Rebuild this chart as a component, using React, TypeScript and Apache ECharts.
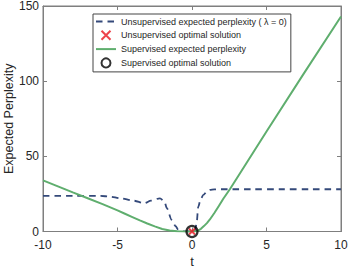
import React, { useEffect, useRef } from "react";
import * as echarts from "echarts";

const tUnsup = [-10, -8, -6.15, -5.5, -4.82, -3.93, -3.2, -2.75, -2.15, -1.85, -1.69, -1.36, -1.1, -0.92, -0.6, -0.25, 0, 0.2, 0.31, 0.42, 0.58, 0.76, 1.0, 1.2, 1.5, 1.87, 4, 6, 8, 10];
const vUnsup = [23.7, 23.7, 23.7, 23.2, 22.1, 20.5, 18.8, 20.5, 22.1, 20, 15.5, 7.7, 3.5, 1.2, 0.2, 0, 0, 0.5, 5.5, 16.5, 21.5, 24.3, 26.5, 27.7, 28, 28.1, 28.1, 28.1, 28.1, 28.1];

const tSup = [-10, -9, -8, -7, -6, -5, -4.5, -4, -3.5, -3, -2.5, -2, -1.5, -1, -0.5, 0, 0.2, 0.4, 0.6, 0.8, 1, 1.2, 1.5, 1.8, 2.1, 2.54, 3, 5, 7.5, 10];
const vSup = [34, 30, 26, 22.1, 18.2, 14.0, 11.8, 9.6, 7.4, 5.3, 3.4, 1.7, 0.6, 0.1, 0, 0, 0.1, 0.6, 1.8, 3.6, 5.6, 8, 12.3, 17.0, 21.8, 28.1, 35.3, 66.5, 105, 143];

const unsupOpt = [[0, 0]];
const supOpt = [[0, 0]];

const xTicks = { min: -10, max: 10, interval: 5 };
const yTicks = { min: 0, max: 150, interval: 50 };

const names = [
  "Unsupervised expected perplexity ( λ = 0)",
  "Unsupervised optimal solution",
  "Supervised expected perplexity",
  "Supervised optimal solution",
];

const FONT = "'Liberation Sans', Arial, Helvetica, sans-serif";
const AXIS_COLOR = "#7f7f7f";
const TEXT_COLOR = "#262626";

export default function App() {
  const ref = useRef<HTMLDivElement>(null);
  useEffect(() => {
    if (!ref.current) return;
    const chart = echarts.init(ref.current, undefined, { renderer: "svg" });
    const axisCommon = {
      type: "value" as const,
      axisLine: { show: true, onZero: false, lineStyle: { color: AXIS_COLOR, width: 1 } },
      axisTick: { show: true, inside: true, length: 4, lineStyle: { color: AXIS_COLOR } },
      splitLine: { show: false },
    };
    chart.setOption({
      animation: false,
      textStyle: { fontFamily: FONT },
      grid: {
        left: 43, right: 8, top: 6, bottom: 38.5,
        containLabel: false,
        outerBoundsMode: "none",
        show: true,
        borderColor: AXIS_COLOR,
        borderWidth: 1,
        backgroundColor: "transparent",
      },
      xAxis: [
        {
          ...axisCommon,
          ...xTicks,
          position: "bottom",
          axisLabel: { color: TEXT_COLOR, fontSize: 12, margin: 7, fontFamily: FONT },
          name: "t",
          nameLocation: "middle",
          nameGap: 23,
          nameMoveOverlap: false,
          nameTextStyle: { color: TEXT_COLOR, fontSize: 13, fontFamily: FONT },
        },
        {
          ...axisCommon,
          ...xTicks,
          position: "top",
          axisLabel: { show: false },
        },
      ],
      yAxis: [
        {
          ...axisCommon,
          ...yTicks,
          position: "left",
          axisLabel: { color: TEXT_COLOR, fontSize: 12, margin: 4, fontFamily: FONT },
          name: "Expected Perplexity",
          nameLocation: "middle",
          nameGap: 28,
          nameMoveOverlap: false,
          nameTextStyle: { color: TEXT_COLOR, fontSize: 12.5, fontFamily: FONT },
        },
        {
          ...axisCommon,
          ...yTicks,
          position: "right",
          axisLabel: { show: false },
        },
      ],
      legend: {
        orient: "vertical",
        left: 93,
        top: 14,
        data: [
          { name: names[0], itemStyle: { opacity: 0 } },
          { name: names[1] },
          { name: names[2], itemStyle: { opacity: 0 } },
          { name: names[3] },
        ],
        itemWidth: 20,
        itemHeight: 9,
        itemGap: 2.3,
        padding: [3, 4, 2, 2],
        backgroundColor: "#ffffff",
        borderColor: "#444",
        borderWidth: 1,
        borderRadius: 0,
        textStyle: { color: TEXT_COLOR, fontSize: 9, fontFamily: FONT },
      },
      series: [
        {
          name: names[0],
          type: "line",
          data: tUnsup.map((t, i) => [t, vUnsup[i]]),
          showSymbol: false,
          symbol: "none",
          smooth: 0.3,
          smoothMonotone: "x",
          lineStyle: { color: "#34497a", width: 1.8, type: [6.5, 5] },
          itemStyle: { color: "#34497a" },
          z: 2,
        },
        {
          name: names[2],
          type: "line",
          data: tSup.map((t, i) => [t, vSup[i]]),
          showSymbol: false,
          symbol: "none",
          smooth: false,
          lineStyle: { color: "#5fae6e", width: 2 },
          itemStyle: { color: "#5fae6e" },
          z: 3,
        },
        {
          name: names[1],
          type: "scatter",
          data: unsupOpt,
          symbol: "path://M0,0L10,10M0,10L10,0",
          symbolSize: 6,
          itemStyle: { color: "none", borderColor: "#e8141e", borderWidth: 2 },
          z: 5,
        },
        {
          name: names[3],
          type: "scatter",
          data: supOpt,
          symbol: "circle",
          symbolSize: 11,
          itemStyle: { color: "none", borderColor: "#000000", borderWidth: 2.2 },
          z: 6,
        },
      ],
    });
    return () => chart.dispose();
  }, []);
  return <div ref={ref} style={{ width: 349, height: 270, position: "absolute", left: 0, top: 0 }} />;
}
